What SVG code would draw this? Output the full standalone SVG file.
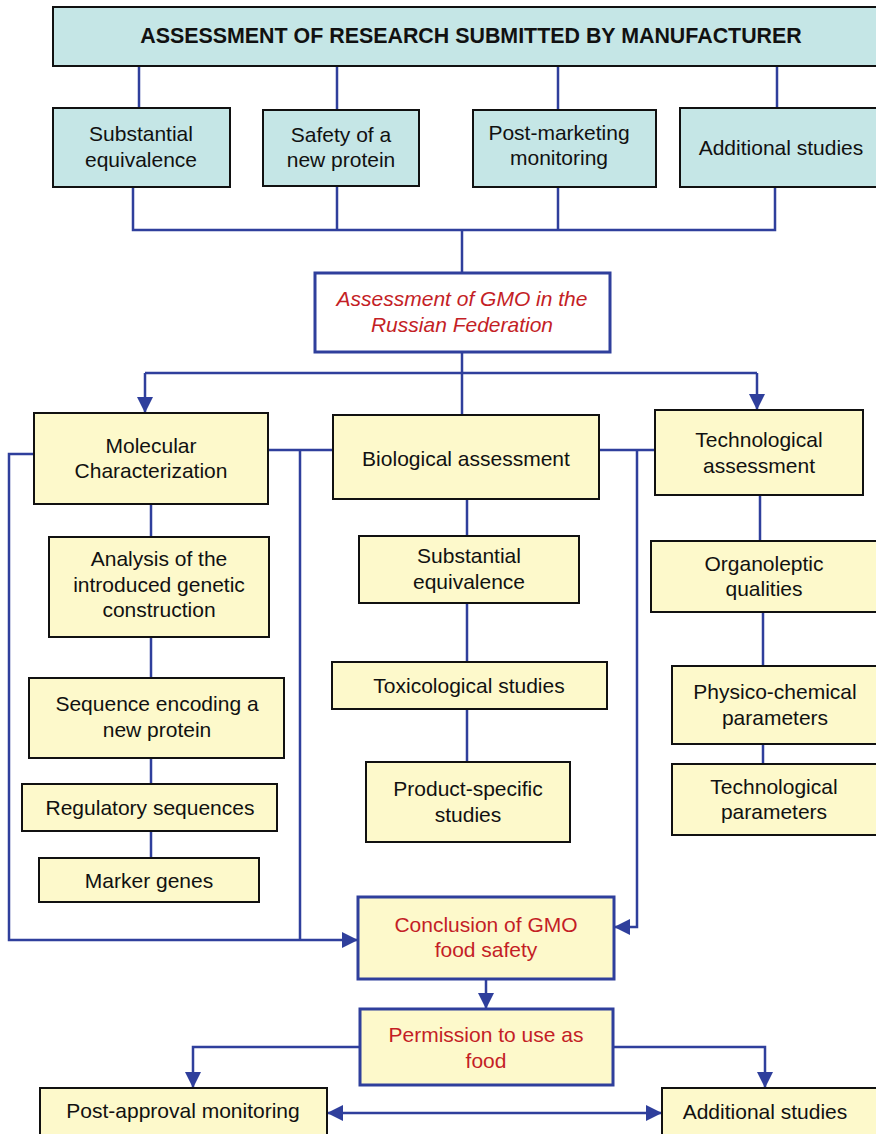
<svg xmlns="http://www.w3.org/2000/svg" width="876" height="1134" viewBox="0 0 876 1134">
  <style>
    .teal { fill: #c5e6e6; stroke: #111; stroke-width: 2; }
    .yel { fill: #fdf9cb; stroke: #111; stroke-width: 2; }
    .yelb { fill: #fdf9cb; stroke: #2f3f9c; stroke-width: 3; }
    .white { fill: #ffffff; stroke: #2f3f9c; stroke-width: 3; }
    text { font-family: "Liberation Sans", Arial, sans-serif; font-size: 21px; fill: #111; text-anchor: middle; }
    .title { font-weight: bold; font-size: 21.4px; }
    .red { fill: #c41e26; }
    .it { font-style: italic; }
    .wire { fill: none; stroke: #2f3f9c; stroke-width: 2.5; }
  </style>
  <defs>
    <marker id="arrow" markerUnits="userSpaceOnUse" markerWidth="16" markerHeight="16" viewBox="0 0 16 16" refX="15" refY="8" orient="auto-start-reverse">
      <path d="M0,0 L16,8 L0,16 Z" fill="#2f3f9c"/>
    </marker>
  </defs>

  <rect width="876" height="1134" fill="#ffffff"/>

  <!-- connectors -->
  <g id="connectors" class="wire">
    <!-- top box to the four study boxes -->
    <line x1="139" y1="66" x2="139" y2="108"/>
    <line x1="337" y1="66" x2="337" y2="110"/>
    <line x1="558" y1="66" x2="558" y2="110"/>
    <line x1="777" y1="66" x2="777" y2="108"/>
    <!-- study boxes merge into the GMO assessment -->
    <polyline points="133,187 133,230 775,230 775,187"/>
    <line x1="337" y1="186" x2="337" y2="230"/>
    <line x1="558" y1="187" x2="558" y2="230"/>
    <line x1="462" y1="230" x2="462" y2="273"/>
    <!-- GMO assessment branches -->
    <line x1="462" y1="352" x2="462" y2="415"/>
    <polyline points="145,373 757,373"/>
    <line x1="145" y1="373" x2="145" y2="412" marker-end="url(#arrow)"/>
    <line x1="757" y1="373" x2="757" y2="409" marker-end="url(#arrow)"/>
    <!-- links between the three assessments -->
    <line x1="268" y1="450" x2="333" y2="450"/>
    <line x1="599" y1="450" x2="655" y2="450"/>
    <!-- left feed lines to the conclusion -->
    <polyline points="34,454 9,454 9,940 300,940"/>
    <line x1="300" y1="450" x2="300" y2="940"/>
    <line x1="300" y1="940" x2="357" y2="940" marker-end="url(#arrow)"/>
    <!-- right feed line to the conclusion -->
    <polyline points="637,450 637,927 615,927" marker-end="url(#arrow)"/>
    <!-- molecular column -->
    <line x1="151" y1="504" x2="151" y2="537"/>
    <line x1="151" y1="637" x2="151" y2="678"/>
    <line x1="151" y1="758" x2="151" y2="784"/>
    <line x1="151" y1="831" x2="151" y2="858"/>
    <!-- biological column -->
    <line x1="467" y1="499" x2="467" y2="536"/>
    <line x1="467" y1="603" x2="467" y2="662"/>
    <line x1="467" y1="709" x2="467" y2="762"/>
    <!-- technological column -->
    <line x1="760" y1="495" x2="760" y2="541"/>
    <line x1="763" y1="612" x2="763" y2="666"/>
    <line x1="763" y1="744" x2="763" y2="764"/>
    <!-- conclusion to permission -->
    <line x1="486" y1="979" x2="486" y2="1008" marker-end="url(#arrow)"/>
    <!-- permission to monitoring and studies -->
    <polyline points="360,1047 193,1047 193,1087" marker-end="url(#arrow)"/>
    <polyline points="613,1047 765,1047 765,1087" marker-end="url(#arrow)"/>
    <line x1="328" y1="1113" x2="661" y2="1113" marker-start="url(#arrow)" marker-end="url(#arrow)"/>
  </g>

  <g id="manufacturer">
    <rect class="teal" x="53" y="7" width="830" height="59"/>
    <text class="title" x="471" y="43">ASSESSMENT OF RESEARCH SUBMITTED BY MANUFACTURER</text>
  </g>
  <g id="substantial-equivalence-top">
    <rect class="teal" x="53" y="108" width="177" height="79"/>
    <text x="141" y="141">Substantial</text>
    <text x="141" y="167">equivalence</text>
  </g>
  <g id="safety-new-protein">
    <rect class="teal" x="263" y="110" width="156" height="76"/>
    <text x="341" y="142">Safety of a</text>
    <text x="341" y="167">new protein</text>
  </g>
  <g id="post-marketing">
    <rect class="teal" x="473" y="110" width="183" height="77"/>
    <text x="559" y="140">Post-marketing</text>
    <text x="559" y="165">monitoring</text>
  </g>
  <g id="additional-studies-top">
    <rect class="teal" x="680" y="108" width="210" height="79"/>
    <text x="781" y="155">Additional studies</text>
  </g>

  <g id="gmo-assessment">
    <rect class="white" x="315" y="273" width="295" height="79"/>
    <text class="red it" x="462" y="306">Assessment of GMO in the</text>
    <text class="red it" x="462" y="332">Russian Federation</text>
  </g>

  <g id="molecular">
    <rect class="yel" x="34" y="413" width="234" height="91"/>
    <text x="151" y="453">Molecular</text>
    <text x="151" y="478">Characterization</text>
  </g>
  <g id="biological">
    <rect class="yel" x="333" y="415" width="266" height="84"/>
    <text x="466" y="466">Biological assessment</text>
  </g>
  <g id="technological">
    <rect class="yel" x="655" y="410" width="208" height="85"/>
    <text x="759" y="447">Technological</text>
    <text x="759" y="473">assessment</text>
  </g>

  <g id="genetic-construction">
    <rect class="yel" x="49" y="537" width="220" height="100"/>
    <text x="159" y="566">Analysis of the</text>
    <text x="159" y="592">introduced genetic</text>
    <text x="159" y="617">construction</text>
  </g>
  <g id="sequence-encoding">
    <rect class="yel" x="29" y="678" width="255" height="80"/>
    <text x="157" y="711">Sequence encoding a</text>
    <text x="157" y="737">new protein</text>
  </g>
  <g id="regulatory-sequences">
    <rect class="yel" x="22" y="784" width="255" height="47"/>
    <text x="150" y="815">Regulatory sequences</text>
  </g>
  <g id="marker-genes">
    <rect class="yel" x="39" y="858" width="220" height="44"/>
    <text x="149" y="888">Marker genes</text>
  </g>

  <g id="substantial-equivalence">
    <rect class="yel" x="359" y="536" width="220" height="67"/>
    <text x="469" y="563">Substantial</text>
    <text x="469" y="589">equivalence</text>
  </g>
  <g id="toxicological">
    <rect class="yel" x="332" y="662" width="275" height="47"/>
    <text x="469" y="693">Toxicological studies</text>
  </g>
  <g id="product-specific">
    <rect class="yel" x="366" y="762" width="204" height="80"/>
    <text x="468" y="796">Product-specific</text>
    <text x="468" y="822">studies</text>
  </g>

  <g id="organoleptic">
    <rect class="yel" x="651" y="541" width="235" height="71"/>
    <text x="764" y="571">Organoleptic</text>
    <text x="764" y="596">qualities</text>
  </g>
  <g id="physico-chemical">
    <rect class="yel" x="672" y="666" width="214" height="78"/>
    <text x="775" y="699">Physico-chemical</text>
    <text x="775" y="725">parameters</text>
  </g>
  <g id="technological-parameters">
    <rect class="yel" x="672" y="764" width="214" height="71"/>
    <text x="774" y="794">Technological</text>
    <text x="774" y="819">parameters</text>
  </g>

  <g id="conclusion">
    <rect class="yelb" x="358" y="897" width="256" height="82"/>
    <text class="red" x="486" y="932">Conclusion of GMO</text>
    <text class="red" x="486" y="957">food safety</text>
  </g>
  <g id="permission">
    <rect class="yelb" x="360" y="1009" width="253" height="76"/>
    <text class="red" x="486" y="1042">Permission to use as</text>
    <text class="red" x="486" y="1068">food</text>
  </g>
  <g id="post-approval">
    <rect class="yel" x="40" y="1088" width="287" height="60"/>
    <text x="183" y="1118">Post-approval monitoring</text>
  </g>
  <g id="additional-studies-bottom">
    <rect class="yel" x="662" y="1088" width="230" height="60"/>
    <text x="765" y="1119">Additional studies</text>
  </g>
</svg>
